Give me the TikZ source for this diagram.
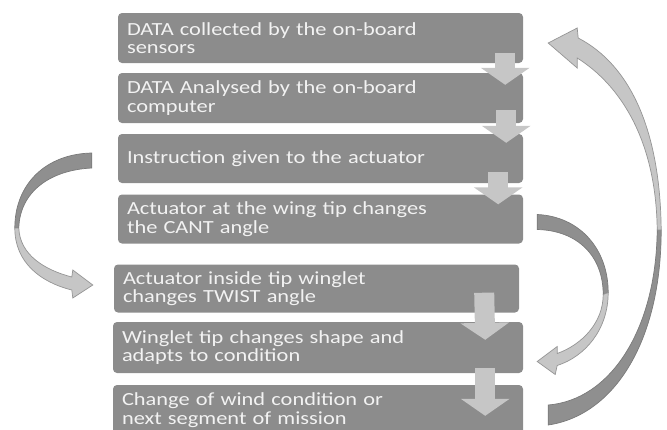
\documentclass[tikz,border=0pt]{standalone}
\usepackage{fontspec}
\usepackage{tikz}
\usetikzlibrary{arrows.meta}
\newfontfamily\stagefont{Carlito}[FakeStretch=1.21]

\definecolor{boxgray}{HTML}{8C8C8C}
\definecolor{boxtext}{HTML}{F2F2F2}
\definecolor{arrowlight}{HTML}{C6C6C6}
\definecolor{arrowdark}{HTML}{8F8F8F}
\definecolor{edgegray}{HTML}{7A7A7A}

\tikzset{
  stage/.style={rectangle, rounded corners=4pt, fill=boxgray, text=boxtext,
    minimum height=50pt, text width=387pt, inner xsep=9pt, inner ysep=2pt,
    align=left, font=\stagefont\fontsize{18.5}{18.5}\selectfont},
  flowarrow/.style={line width=20pt, draw=arrowlight,
    -{Triangle[length=17pt,width=48pt]}},
  backband/.style={fill=arrowdark, draw=edgegray, line width=0.7pt},
  frontband/.style={fill=arrowlight, draw=edgegray!80, line width=0.7pt},
}

\begin{document}
\begin{tikzpicture}[x=1pt,y=-1pt]
			\clip (0,0) rectangle (667,429);
			% process boxes
			\node[stage] (s1) at (320.5,38) {DATA collected by the on-board\\sensors};
			\node[stage] (s2) at (320.5,98) {DATA Analysed by the on-board\\computer};
			\node[stage, minimum height=49pt] (s3) at (320.5,158.5) {Instruction given to the actuator};
			\node[stage, minimum height=49pt] (s4) at (320.5,219) {Actuator at the wing tip changes\\the CANT angle};
			\node[stage, minimum height=48pt] (s5) at (316.5,288.5) {Actuator inside tip winglet\\changes TWIST angle};
			\node[stage, minimum height=51pt, text width=392pt] (s6) at (318,347.5) {Winglet tip changes shape and\\adapts to condition};
			\node[stage, text width=392pt] (s7) at (318,410) {Change of wind condition or\\next segment of mission};
			% straight arrows
			\draw[flowarrow] ([xshift=-18pt,yshift=10pt]s1.south east) -- ([xshift=-18pt,yshift=-12pt]s2.north east);
			\draw[flowarrow] ([xshift=-17pt,yshift=13pt]s2.south east) -- ([xshift=-17pt,yshift=-9pt]s3.north east);
			\draw[flowarrow] ([xshift=-25pt,yshift=11pt]s3.south east) -- ([xshift=-25pt,yshift=-10pt]s4.north east);
			\draw[flowarrow] ([xshift=-35pt,yshift=20pt]s5.south east) -- ([xshift=-38pt,yshift=-18pt]s6.north east);
			\draw[flowarrow] ([xshift=-38pt,yshift=5pt]s6.south east) -- ([xshift=-38pt,yshift=-31pt]s7.north east);
			% curved arrows
			\coordinate (lt) at ([xshift=-26pt,yshift=-2pt]s3.west);
			\coordinate (rt) at ([xshift=14pt,yshift=-3pt]s4.east);
			\coordinate (bt) at ([xshift=25pt,yshift=-5pt]s7.east);
			\begin{scope}[shift={(lt)}]
				\draw[backband] (0,-7.5) .. controls (-47,-6.5) and (-77,24.5) .. (-77,67.5)
					-- (-73,67.5) .. controls (-72,31.5) and (-42,9.5) .. (0,7.5) -- cycle;
				\draw[frontband] (-77,67.5) .. controls (-77,101.5) and (-52,121.5) .. (-20,129.5)
					-- (-19,137.5) -- (1,124.5) -- (-19,109.5) -- (-20,116.5)
					.. controls (-47,109.5) and (-72,94.5) .. (-73,67.5) -- cycle;
			\end{scope}
			\begin{scope}[shift={(rt)}]
				\draw[backband] (0,-7.5) .. controls (43,-5.5) and (71,27.5) .. (71,70.5)
					-- (66,72.5) .. controls (66,34.5) and (41,8.5) .. (0,7.5) -- cycle;
				\draw[frontband] (71,70.5) .. controls (71,107.5) and (48,134.5) .. (20,143.5)
					-- (18,152.5) -- (0,139.5) -- (20,124.5) -- (20,131.5)
					.. controls (45,122.5) and (66,100.5) .. (66,72.5) -- cycle;
			\end{scope}
			\begin{scope}[shift={(bt)}]
				\draw[backband] (0,10) .. controls (67,0) and (113,-75) .. (113,-185)
					-- (109,-185) .. controls (108,-85) and (62,-15) .. (0,-10) -- cycle;
				\draw[frontband] (113,-185) .. controls (112,-285) and (82,-350) .. (30,-377)
					-- (29,-387) -- (0,-372) -- (29,-347) -- (29,-357)
					.. controls (72,-330) and (108,-275) .. (109,-185) -- cycle;
			\end{scope}
		\end{tikzpicture}
\end{document}
